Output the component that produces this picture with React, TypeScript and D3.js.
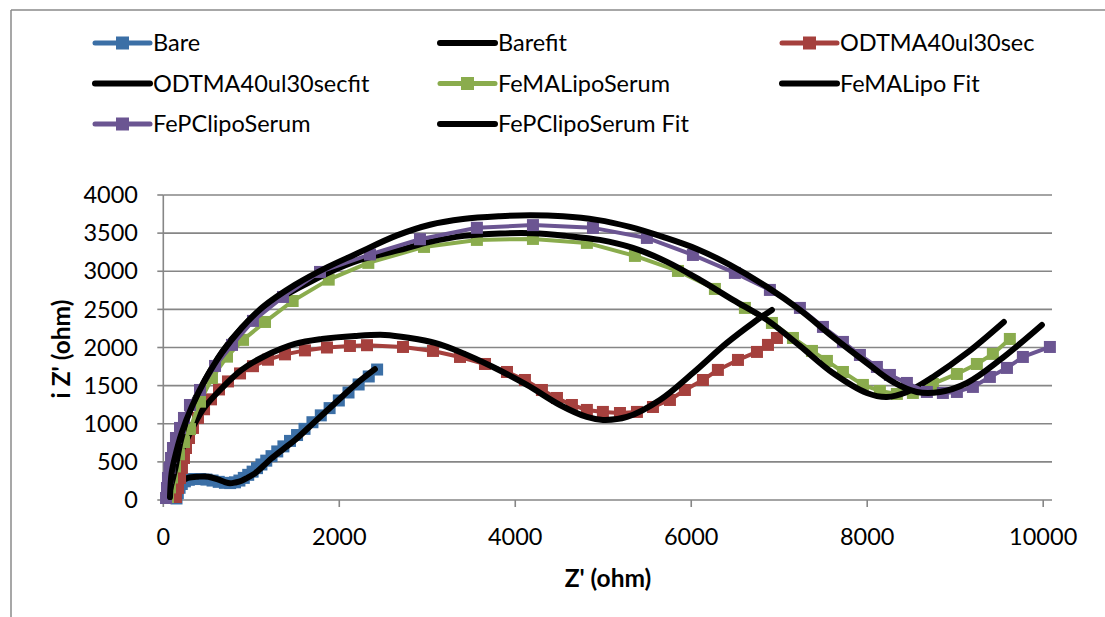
import React from "react";
import * as d3 from "d3";

type P = [number, number];

const xTicks = [0, 2000, 4000, 6000, 8000, 10000];
const yTicks = [0, 500, 1000, 1500, 2000, 2500, 3000, 3500, 4000];

const bare: P[] = [
  [150, 20], [165, 90], [185, 160], [210, 210], [245, 245], [290, 265], [350, 275], [420, 275],
  [490, 268], [560, 255], [630, 238], [700, 225], [760, 222], [815, 232], [865, 255], [915, 290],
  [965, 330], [1015, 372], [1065, 418], [1115, 466], [1170, 516], [1230, 575], [1295, 637],
  [1365, 703], [1440, 775], [1520, 852], [1605, 933], [1695, 1020], [1790, 1110], [1890, 1205],
  [1995, 1305], [2105, 1410], [2220, 1515], [2335, 1620], [2430, 1711],
];
const bareFit: P[] = [
  [195, 240], [280, 290], [397, 306], [511, 306], [620, 270], [700, 235], [758, 219], [820, 230],
  [891, 253], [960, 295], [1042, 350], [1130, 440], [1231, 547], [1360, 665], [1497, 787],
  [1724, 1028], [1951, 1269], [2178, 1509], [2405, 1715],
];
const odtma: P[] = [
  [144, 39], [167, 157], [190, 289], [212, 420], [235, 551], [258, 682], [292, 813], [337, 945],
  [394, 1076], [463, 1190], [542, 1320], [633, 1450], [735, 1555], [872, 1660], [1019, 1755],
  [1190, 1840], [1383, 1910], [1610, 1962], [1860, 2000], [2121, 2020], [2315, 2030], [2724, 2007],
  [3065, 1955], [3372, 1876], [3656, 1784], [3906, 1679], [4110, 1574], [4303, 1443], [4474, 1338],
  [4644, 1246], [4814, 1181], [4996, 1155], [5190, 1141], [5383, 1155], [5565, 1220], [5758, 1312],
  [5928, 1443], [6133, 1574], [6303, 1706], [6531, 1837], [6747, 1942], [6872, 2034], [6974, 2125],
];
const odtmaFit: P[] = [
  [76, 39], [110, 328], [167, 551], [265, 787], [360, 1010], [463, 1207], [667, 1469], [890, 1706],
  [1133, 1876], [1496, 2047], [1803, 2113], [2178, 2152], [2519, 2165], [2803, 2125], [3087, 2060],
  [3372, 1942], [3747, 1745], [4133, 1509], [4508, 1246], [4814, 1089], [4996, 1050], [5269, 1089],
  [5644, 1312], [6019, 1666], [6405, 2060], [6701, 2322], [6917, 2493],
];
const feMALipo: P[] = [
  [53, 39], [76, 165], [99, 295], [133, 440], [178, 600], [235, 760], [303, 930], [417, 1290],
  [553, 1600], [724, 1880], [906, 2100], [1156, 2335], [1470, 2610], [1880, 2890], [2330, 3110],
  [2963, 3319], [3564, 3411], [4201, 3424], [4814, 3372], [5360, 3201], [5849, 3004], [6269, 2768],
  [6610, 2519], [6917, 2322], [7156, 2125], [7372, 1955], [7542, 1824], [7724, 1679], [7951, 1509],
  [8144, 1430], [8337, 1391], [8519, 1404], [8746, 1522], [9019, 1653], [9246, 1784], [9428, 1916],
  [9621, 2112],
];
const feMALipoFit: P[] = [
  [76, 131], [133, 394], [201, 787], [303, 1181], [474, 1574], [667, 1942], [890, 2257],
  [1133, 2519], [1496, 2755], [1894, 2991], [2235, 3149], [2690, 3280], [3030, 3385], [3417, 3464],
  [3826, 3495], [4201, 3498], [4576, 3464], [4962, 3411], [5337, 3306], [5724, 3123], [6099, 2886],
  [6474, 2624], [6860, 2362], [7235, 2021], [7610, 1666], [7996, 1404], [8223, 1351], [8450, 1417],
  [8747, 1614], [9133, 1928], [9553, 2335],
];
const fePClipo: P[] = [
  [31, 26], [42, 157], [53, 289], [70, 420], [88, 551], [110, 682], [144, 813], [190, 945],
  [235, 1076], [303, 1246], [417, 1443], [588, 1758], [781, 2034], [1019, 2349], [1360, 2663],
  [1781, 2991], [2349, 3220], [2917, 3420], [3564, 3570], [4201, 3605], [4883, 3569], [5496, 3437],
  [6019, 3214], [6496, 2978], [6894, 2755], [7235, 2519], [7497, 2270], [7724, 2073], [7917, 1902],
  [8110, 1745], [8258, 1640], [8451, 1535], [8678, 1417], [8860, 1404], [9019, 1417], [9201, 1483],
  [9394, 1614], [9588, 1732], [9769, 1876], [10076, 2007],
];
const fePClipoFit: P[] = [
  [76, 39], [95, 354], [133, 564], [209, 879], [323, 1220], [474, 1574], [664, 1929], [891, 2257],
  [1133, 2532], [1496, 2821], [1872, 3057], [2178, 3220], [2656, 3470], [3031, 3610], [3406, 3685],
  [3826, 3722], [4167, 3735], [4542, 3722], [4928, 3674], [5303, 3582], [5678, 3451], [6064, 3293],
  [6439, 3083], [6860, 2795], [7235, 2493], [7610, 2139], [7996, 1797], [8291, 1548], [8564, 1417],
  [8826, 1417], [9133, 1535], [9508, 1837], [9985, 2296],
];

const seriesNames = [
  "Bare", "Barefit", "ODTMA40ul30sec", "ODTMA40ul30secfit",
  "FeMALipoSerum", "FeMALipo Fit", "FePClipoSerum", "FePClipoSerum Fit",
];

const colors = {
  blue: "#3B6FA6",
  red: "#A5403D",
  green: "#8AAC4D",
  purple: "#6B5592",
};

const series = [
  { name: seriesNames[0], data: bare, fit: false, color: colors.blue },
  { name: seriesNames[1], data: bareFit, fit: true, color: "#000" },
  { name: seriesNames[2], data: odtma, fit: false, color: colors.red },
  { name: seriesNames[3], data: odtmaFit, fit: true, color: "#000" },
  { name: seriesNames[4], data: feMALipo, fit: false, color: colors.green },
  { name: seriesNames[5], data: feMALipoFit, fit: true, color: "#000" },
  { name: seriesNames[6], data: fePClipo, fit: false, color: colors.purple },
  { name: seriesNames[7], data: fePClipoFit, fit: true, color: "#000" },
];

const FONT = "Lato, 'Open Sans', sans-serif";
const GRID = "#868686";

export default function App() {
  const W = 1105, H = 617;
  const x = d3.scaleLinear().domain([0, 10100]).range([163.3, 1052]);
  const y = d3.scaleLinear().domain([0, 4000]).range([500, 195]);
  const smooth = d3.line<P>().x((d) => x(d[0])).y((d) => y(d[1])).curve(d3.curveCatmullRom.alpha(0.5));
  const straight = d3.line<P>().x((d) => x(d[0])).y((d) => y(d[1]));
  const M = 12;

  const legendCols = [95, 440, 782];
  const legendRows = [43, 83.5, 124];

  return (
    <svg width={W} height={H} style={{ position: "absolute", left: 0, top: 0, background: "#fff" }}>
      <rect x={0} y={0} width={W} height={H} fill="#fff" />
      {/* outer border */}
      <line x1={11} y1={10} x2={W} y2={10} stroke="#8a8a8a" strokeWidth={1.5} />
      <line x1={11} y1={10} x2={11} y2={H} stroke="#8a8a8a" strokeWidth={1.5} />

      {/* gridlines */}
      {yTicks.map((t) => (
        <line key={"g" + t} x1={x(0)} x2={x(10100)} y1={y(t)} y2={y(t)} stroke={GRID} strokeWidth={1.6} />
      ))}
      {/* axes */}
      <line x1={x(0)} x2={x(0)} y1={y(0)} y2={y(4000)} stroke={GRID} strokeWidth={1.6} />
      {yTicks.map((t) => (
        <line key={"yt" + t} x1={x(0) - 6} x2={x(0)} y1={y(t)} y2={y(t)} stroke={GRID} strokeWidth={1.6} />
      ))}
      {xTicks.map((t) => (
        <line key={"xt" + t} x1={x(t)} x2={x(t)} y1={y(0)} y2={y(0) + 7} stroke={GRID} strokeWidth={1.6} />
      ))}
      {yTicks.map((t) => (
        <text key={"yl" + t} x={138} y={y(t)} dy="0.35em" textAnchor="end" fontFamily={FONT} fontSize={23.5} fill="#000">
          {t}
        </text>
      ))}
      {xTicks.map((t) => (
        <text key={"xl" + t} x={x(t)} y={537} dy="0.35em" textAnchor="middle" fontFamily={FONT} fontSize={23.5} fill="#000">
          {t}
        </text>
      ))}
      <text x={608} y={578} dy="0.35em" textAnchor="middle" fontFamily={FONT} fontWeight="bold" fontSize={24.5}>
        Z' (ohm)
      </text>
      <text transform="translate(61,349) rotate(-90)" dy="0.35em" textAnchor="middle" fontFamily={FONT} fontWeight="bold" fontSize={24.5}>
        i Z' (ohm)
      </text>

      {/* series */}
      {series.map((s) =>
        s.fit ? (
          <path key={s.name} d={smooth(s.data) || ""} fill="none" stroke="#000" strokeWidth={6} strokeLinecap="round" strokeLinejoin="round" />
        ) : (
          <g key={s.name}>
            <path d={straight(s.data) || ""} fill="none" stroke={s.color} strokeWidth={4} strokeLinejoin="round" />
            {s.data.map((d, i) => (
              <rect key={i} x={x(d[0]) - M / 2} y={y(d[1]) - M / 2} width={M} height={M} fill={s.color} />
            ))}
          </g>
        )
      )}

      {/* legend */}
      {series.map((s, i) => {
        const cx = legendCols[i % 3];
        const cy = legendRows[Math.floor(i / 3)];
        return (
          <g key={"lg" + s.name}>
            <line x1={cx} x2={cx + 55} y1={cy} y2={cy} stroke={s.color} strokeWidth={s.fit ? 6 : 5} strokeLinecap="round" />
            {!s.fit && <rect x={cx + 27.5 - 6.5} y={cy - 6.5} width={13} height={13} fill={s.color} />}
            <text x={cx + 58} y={cy} dy="0.35em" fontFamily={FONT} fontSize={23.5} fill="#000">
              {s.name}
            </text>
          </g>
        );
      })}
    </svg>
  );
}
